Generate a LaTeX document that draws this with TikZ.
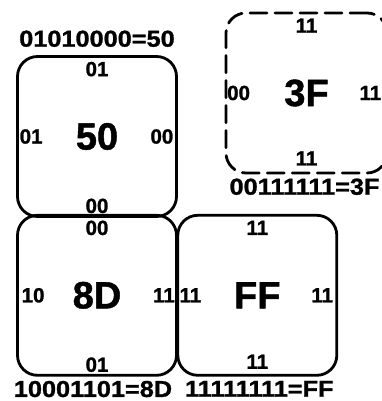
\documentclass[tikz,border=0pt]{standalone}
\usepackage{fontspec}
\setmainfont{Liberation Sans}
\newfontfamily\codefont{Liberation Sans}[FakeBold=1.2]
\newfontfamily\titlefont{Liberation Sans}[FakeBold=1.2,FakeStretch=1.1]
\usepackage{tikz}
\usetikzlibrary{positioning}

\tikzset{
  cell/.style={draw,line width=2.8pt,rounded corners=20pt,minimum width=159pt,minimum height=160pt,inner sep=0pt},
  lbl/.style={font=\fontsize{20.5}{20.5}\codefont\bfseries,inner sep=0pt},
  big/.style={font=\fontsize{38}{38}\codefont\bfseries,inner sep=0pt},
  celltitle/.style={font=\fontsize{23}{23}\titlefont\bfseries,inner sep=0pt}
}

\begin{document}
\begin{tikzpicture}[x=1pt,y=1pt,line cap=round,line join=round]
\path[use as bounding box] (0,0) rectangle (382,401);
\begin{scope}
\clip (0,0) rectangle (382,401);
% cells
\node[cell] (b50) at (97,264.5) {};
\node[cell,below=-4pt of b50] (b8D) {};
\node[cell,right=-1.5pt of b8D] (bFF) {};
\node[cell,dash pattern=on 17pt off 8pt,minimum width=161pt] (b3F) at (306.5,308) {};
\end{scope}
% values
\node[big] (v50) at (b50) {50};
\node[big] (v8D) at (b8D) {8D};
\node[big] (vFF) at (bFF) {FF};
\node[big] (v3F) at (b3F) {3F};
% edge codes
\node[lbl] (n50) at ([yshift=-14pt]b50.north) {01};
\node[lbl] (w50) at ([xshift=15pt]b50.west) {01};
\node[lbl] (e50) at ([xshift=-16pt]b50.east) {00};
\node[lbl] (s50) at ([yshift=12pt]b50.south) {00};
\node[lbl] (n8D) at ([yshift=-14pt]b8D.north) {00};
\node[lbl] (w8D) at ([xshift=17pt]b8D.west) {10};
\node[lbl] (e8D) at ([xshift=-14pt]b8D.east) {11};
\node[lbl] (s8D) at ([yshift=12pt]b8D.south) {01};
\node[lbl] (nFF) at ([yshift=-14pt]bFF.north) {11};
\node[lbl] (wFF) at ([xshift=14pt]bFF.west) {11};
\node[lbl] (eFF) at ([xshift=-16pt]bFF.east) {11};
\node[lbl] (sFF) at ([yshift=15pt]bFF.south) {11};
\node[lbl] (n3F) at ([yshift=-14pt]b3F.north) {11};
\node[lbl] (w3F) at ([xshift=14pt]b3F.west) {00};
\node[lbl] (e3F) at ([xshift=-18pt]b3F.east) {11};
\node[lbl] (s3F) at ([yshift=16pt]b3F.south) {11};
% captions
\node[celltitle,above=8pt of b50] (c50) {01010000=50};
\node[celltitle,below=4pt of b3F,xshift=-2pt] (c3F) {00111111=3F};
\node[celltitle,below=4pt of b8D,xshift=-4pt] (c8D) {10001101=8D};
\node[celltitle,below=4pt of bFF,xshift=2pt] (cFF) {11111111=FF};
\end{tikzpicture}
\end{document}
